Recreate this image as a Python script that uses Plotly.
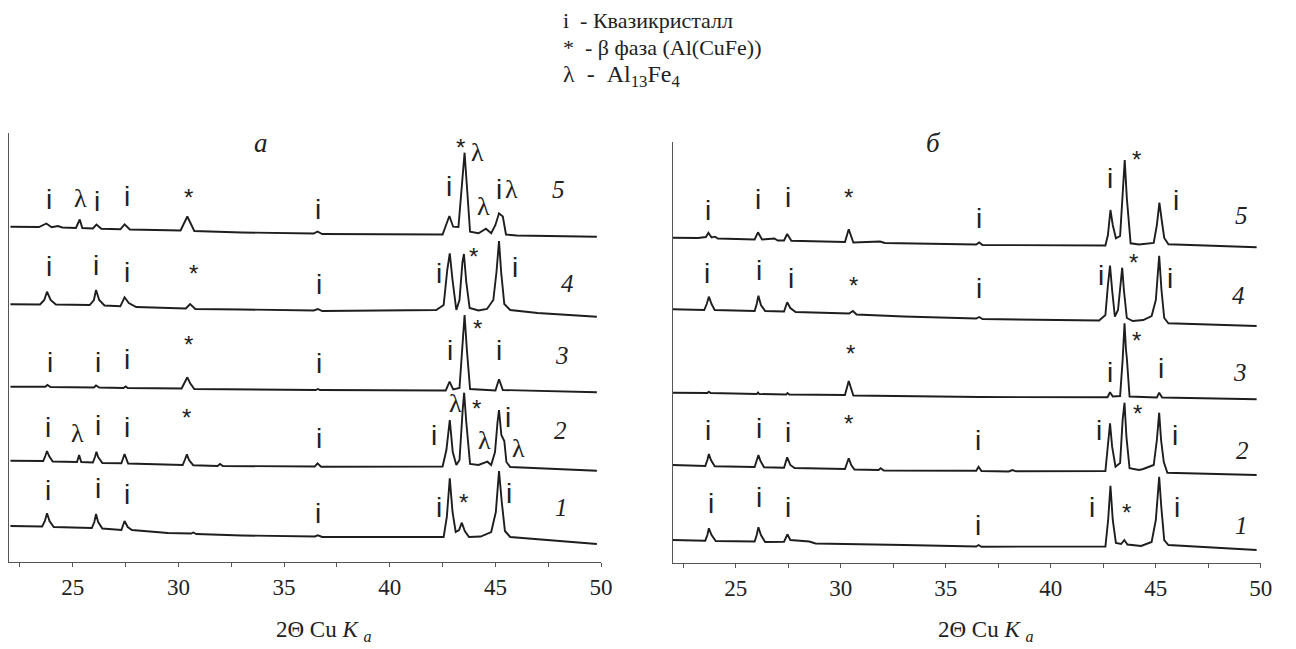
import plotly.graph_objects as go

# ---------------- data: panel "a" (x = 2theta, y = intensity a.u. incl. offset) ----------------
a5_x = [22.05, 23.4, 23.75, 24.0, 24.3, 24.5, 25.15, 25.33, 25.45, 25.95, 26.12, 26.35, 27.25, 27.45, 27.7,
        30.1, 30.42, 30.75, 33.0, 36.4, 36.58, 36.8, 42.5, 42.82, 43.0, 43.25, 43.54, 43.8, 44.2, 44.55,
        44.8, 45.0, 45.17, 45.35, 45.5, 46.0, 49.8]
a5_y = [335.3, 335, 338.5, 334.7, 336, 334.5, 334, 342.5, 334, 333.5, 337.5, 333.3, 332.7, 337.7, 332.5,
        331.5, 345.5, 331, 329.5, 328.5, 330.5, 328, 327.5, 346, 335.3, 335, 409.3, 330.3, 328.7, 333.3,
        328.7, 337, 348.7, 345.5, 327.5, 326.5, 325.3]

a4_x = [22.05, 23.45, 23.65, 23.78, 23.95, 24.2, 25.8, 26.0, 26.1, 26.25, 26.5, 27.25, 27.45, 27.65, 28.0,
        29.0, 30.35, 30.55, 30.8, 33.0, 36.4, 36.6, 36.8, 42.2, 42.55, 42.72, 42.84, 42.97, 43.15, 43.3,
        43.44, 43.51, 43.62, 43.78, 44.2, 44.6, 44.9, 45.05, 45.17, 45.27, 45.42, 45.7, 47.0, 49.8]
a4_y = [257.7, 257.5, 262, 270.3, 262, 257.5, 257, 262, 272, 262, 256.5, 255.7, 264.7, 259, 255,
        254.5, 253.5, 258, 253, 252.5, 251.5, 253, 251, 252, 257, 292, 308.7, 282, 252, 262,
        300, 308, 280, 254, 251.5, 253, 262, 290, 321, 290, 258, 252, 249, 245.3]

a3_x = [22.05, 23.7, 23.8, 23.95, 26.0, 26.1, 26.25, 27.4, 27.5, 27.6, 30.15, 30.3, 30.42, 30.55, 30.75,
        36.5, 36.6, 36.7, 42.65, 42.83, 43.0, 43.3, 43.45, 43.54, 43.65, 43.8, 45.0, 45.17, 45.35, 49.8]
a3_y = [175.3, 175.2, 177, 175, 174.5, 176.5, 174.5, 174, 175.5, 174, 173.5, 179, 184.7, 179, 173,
        172, 173, 172, 171.5, 180.3, 172.5, 174, 222, 247, 212, 173, 171.5, 182.7, 172, 169.7]

a2_x = [22.05, 23.6, 23.7, 23.78, 23.88, 24.05, 25.2, 25.3, 25.4, 25.95, 26.05, 26.12, 26.2, 26.4, 27.3,
        27.45, 27.62, 30.2, 30.3, 30.4, 30.5, 30.7, 31.85, 31.97, 32.1, 36.45, 36.58, 36.75, 42.5, 42.68,
        42.84, 42.98, 43.15, 43.3, 43.45, 43.52, 43.62, 43.8, 44.2, 44.45, 44.62, 44.8, 44.98, 45.1,
        45.17, 45.28, 45.42, 45.52, 45.7, 49.8]
a2_y = [101.3, 101, 106, 111, 106, 100.5, 100, 107, 100, 99.5, 105, 110.3, 105, 99, 98.7,
        108, 98.5, 97, 102, 107.7, 102, 96.8, 96, 98, 96, 95.5, 98.7, 95.3, 95.5, 112,
        142, 110, 97, 102, 152, 169.3, 140, 98, 97, 99, 100.3, 97, 110, 140,
        152, 127, 121, 100, 95, 91.3]

a1_x = [22.05, 23.55, 23.68, 23.78, 23.9, 24.1, 25.9, 26.02, 26.1, 26.2, 26.4, 27.3, 27.45, 27.6, 27.8,
        28.5, 29.5, 30.6, 30.7, 30.85, 33.0, 36.45, 36.6, 36.8, 42.55, 42.7, 42.84, 42.97, 43.12, 43.28,
        43.41, 43.55, 43.75, 44.3, 44.8, 45.02, 45.17, 45.3, 45.45, 45.7, 47.5, 49.8]
a1_y = [36, 35.5, 41, 48.7, 41, 35, 34, 40, 48, 40, 33.5, 32, 41, 35, 32,
        30.5, 29, 28.5, 29.5, 28, 26.5, 25.5, 26.7, 25, 25, 45, 83.7, 50, 30, 32,
        39.3, 31, 25, 25.5, 30, 50, 91, 60, 31, 25, 22, 18]

# ---------------- data: panel "б" ----------------
b5_x = [22.0, 23.2, 23.58, 23.7, 23.85, 24.01, 24.15, 25.9, 26.06, 26.25, 26.84, 27.0, 27.3, 27.45, 27.65,
        30.2, 30.38, 30.6, 31.87, 32.1, 36.45, 36.59, 36.75, 42.6, 42.72, 42.84, 42.95, 43.1, 43.3, 43.44,
        43.52, 43.62, 43.8, 44.2, 44.9, 45.05, 45.17, 45.28, 45.4, 45.6, 49.8]
b5_y = [325.3, 325, 326, 330.3, 325.5, 326.3, 324.5, 323.5, 330.7, 323.5, 324.5, 322.5, 322.5, 329, 322.3,
        321, 333.7, 320.5, 321.5, 320, 318.5, 320.5, 318, 317.5, 328, 353, 338, 324.7, 327, 378,
        403, 365, 319.7, 318.5, 320, 338, 360.3, 343, 325, 318.7, 315.7]

b4_x = [22.0, 23.5, 23.62, 23.72, 23.85, 24.0, 25.9, 26.0, 26.08, 26.2, 26.4, 27.3, 27.45, 27.6, 27.85,
        30.4, 30.58, 30.75, 33.0, 36.45, 36.59, 36.75, 42.3, 42.6, 42.72, 42.82, 42.92, 43.05, 43.2, 43.3,
        43.4, 43.48, 43.62, 43.9, 44.4, 44.8, 45.0, 45.16, 45.27, 45.4, 45.6, 49.8]
b4_y = [253.7, 253, 259, 266.3, 259, 253, 252, 259, 267.3, 258, 252, 251.5, 260.7, 255, 251,
        249.5, 252, 248.5, 246.5, 244.5, 246, 244, 242.5, 248, 278, 297.3, 273, 246.3, 253, 278,
        295.3, 273, 245, 242, 243, 247, 263, 307.3, 273, 245, 239.7, 237]

b3_x = [22.0, 23.65, 23.72, 23.8, 26.0, 26.06, 26.12, 27.4, 27.46, 27.55, 30.2, 30.38, 30.6, 36.6, 42.7,
        42.82, 42.95, 43.3, 43.42, 43.51, 43.58, 43.62, 43.75, 45.05, 45.16, 45.3, 49.8]
b3_y = [170.3, 170, 171.3, 170, 169, 170.5, 169, 168.5, 170, 168.5, 168, 182, 167.5, 166, 165.7,
        170.7, 166.5, 167, 203, 239.7, 213, 205, 166.5, 165.5, 170.3, 165.5, 163.7]

b2_x = [22.0, 23.55, 23.65, 23.72, 23.82, 24.0, 25.9, 26.0, 26.08, 26.18, 26.35, 27.3, 27.45, 27.6, 27.8,
        30.2, 30.28, 30.38, 30.5, 30.65, 31.8, 31.9, 32.05, 36.45, 36.56, 36.7, 38.0, 38.17, 38.35, 42.6,
        42.72, 42.82, 42.92, 43.08, 43.3, 43.42, 43.51, 43.6, 43.75, 44.2, 44.4, 44.9, 45.05, 45.16,
        45.25, 45.38, 45.55, 49.8]
b2_y = [98, 97, 103, 109, 103, 96.7, 96, 102, 108, 102, 95.7, 95.3, 105.7, 98, 95,
        94, 99, 104.7, 98, 93.5, 93, 94.7, 92.5, 92.3, 96.3, 92, 91.5, 93, 91.7, 92,
        118, 139.7, 116.3, 96.3, 100, 143, 160.3, 126.3, 94.7, 93, 94, 98, 123, 150.3,
        123, 101, 90.3, 88]

b1_x = [22.0, 23.55, 23.65, 23.72, 23.85, 24.05, 25.9, 26.0, 26.08, 26.2, 26.4, 27.3, 27.46, 27.6, 28.5,
        28.8, 33.0, 36.45, 36.56, 36.7, 42.6, 42.73, 42.84, 42.95, 43.1, 43.35, 43.5, 43.65, 44.3, 44.8,
        45.0, 45.16, 45.26, 45.4, 45.6, 49.8]
b1_y = [23, 22.3, 28, 34.7, 28, 22, 21.5, 28, 35.7, 28, 21, 21.3, 28.7, 23, 21.5,
        19.5, 18, 16.5, 18, 16.3, 16.5, 43, 77.3, 43, 20, 19, 23, 18.5, 17, 21,
        43, 86.3, 56.3, 23, 18, 13]

# ---------------- phase marks ----------------
a_mark_text = ["i", "λ", "i", "i", "*", "i", "i", "*", "λ", "λ", "i", "λ",
               "i", "i", "i", "*", "i", "i", "*", "i",
               "i", "i", "i", "*", "i", "i", "*", "i",
               "i", "λ", "i", "i", "*", "i", "i", "λ", "*", "λ", "i", "λ",
               "i", "i", "i", "i", "i", "*", "i"]
a_mark_x = [23.86, 25.36, 26.14, 27.56, 30.47, 36.6, 42.81, 43.36, 44.14, 44.45, 45.16, 45.74,
            23.87, 26.12, 27.57, 30.7, 36.66, 42.31, 43.98, 45.94,
            23.9, 26.21, 27.56, 30.47, 36.64, 42.84, 44.14, 45.19,
            23.82, 25.23, 26.2, 27.57, 30.39, 36.64, 42.11, 43.09, 44.1, 44.5, 45.6, 46.07,
            23.82, 26.21, 27.57, 36.61, 42.31, 43.51, 45.62]
a_mark_y = [362, 363, 360, 365, 364, 352, 375, 414, 409, 355, 372, 372,
            296, 297, 290, 289, 278, 289, 305, 295,
            200, 200, 203, 218, 199, 212, 234, 212,
            135, 129, 137, 135, 145, 124, 127, 159, 154, 122, 145, 114,
            72, 74, 68, 49, 55, 60, 69]

b_mark_text = ["i", "i", "i", "*", "i", "i", "*", "i",
               "i", "i", "i", "*", "i", "i", "*", "i",
               "*", "i", "*", "i",
               "i", "i", "i", "*", "i", "i", "*", "i",
               "i", "i", "i", "i", "i", "*", "i"]
b_mark_x = [23.67, 26.06, 27.47, 30.38, 36.59, 42.8, 44.06, 45.95,
            23.62, 26.1, 27.63, 30.62, 36.59, 42.41, 43.95, 45.68,
            30.46, 42.8, 44.06, 45.24,
            23.7, 26.1, 27.5, 30.38, 36.54, 42.3, 44.11, 45.92,
            23.81, 26.09, 27.47, 36.54, 41.97, 43.59, 46.02]
b_mark_y = [353, 364, 366, 366, 345, 385, 404, 363,
            290, 293, 285, 278, 275, 288, 301, 285,
            210, 191, 223, 195,
            133, 135, 131, 140, 123, 133, 150, 128,
            60, 66, 56, 38, 56, 51, 56]

curve_numbers = ["5", "4", "3", "2", "1"]
a_num_x = [47.97, 48.41, 48.13, 48.1, 48.13]
a_num_y = [372, 279, 207, 132, 55]
b_num_x = [49.06, 48.94, 49.01, 49.15, 49.09]
b_num_y = [348, 268, 191, 113, 38]

major_ticks = [25, 30, 35, 40, 45, 50]
minor_ticks = [22.5, 27.5, 32.5, 37.5, 42.5, 47.5]

legend_lines = ["i  - Квазикристалл", "*  - β фаза (Al(CuFe))", "λ  -  Al<sub>13</sub>Fe<sub>4</sub>"]
legend_sizes = [22, 22, 24]

# ---------------- figure ----------------
# the page body has an 8px margin; positions below are screen pixels
OFF = 8
W, H = 1296 - 2 * OFF, 649 - OFF


def px_x(px):
    return (px - OFF) / W


def px_y(py):
    return 1 - (py - OFF) / H


SERIF = "Liberation Serif"
SANS = "Liberation Sans"
LINE = "#1e1e1e"
AX = "#555555"

fig = go.Figure()
for xs, ys in [(a5_x, a5_y), (a4_x, a4_y), (a3_x, a3_y), (a2_x, a2_y), (a1_x, a1_y)]:
    fig.add_trace(go.Scatter(x=xs, y=ys, mode="lines", line=dict(color=LINE, width=1.9),
                             xaxis="x", yaxis="y", showlegend=False, hoverinfo="skip"))
for xs, ys in [(b5_x, b5_y), (b4_x, b4_y), (b3_x, b3_y), (b2_x, b2_y), (b1_x, b1_y)]:
    fig.add_trace(go.Scatter(x=xs, y=ys, mode="lines", line=dict(color=LINE, width=1.9),
                             xaxis="x2", yaxis="y2", showlegend=False, hoverinfo="skip"))

xa_common = dict(range=[22, 50], showline=True, linecolor=AX, linewidth=1, showgrid=False,
                 zeroline=False, ticks="outside", ticklen=4, tickcolor=AX, tickmode="array",
                 tickvals=major_ticks, tickfont=dict(family=SERIF, size=23, color="#222"),
                 minor=dict(tickmode="array", tickvals=minor_ticks, ticks="outside", ticklen=4,
                            tickcolor=AX, showgrid=False))
a_top = 429.3
b_top = 420.7
ya_common = dict(showline=True, linecolor=AX, linewidth=1, showgrid=False, zeroline=False,
                 ticks="inside", ticklen=4, tickcolor=AX, showticklabels=False)
fig.update_layout(
    width=W, height=H, margin=dict(l=0, r=0, t=0, b=0),
    paper_bgcolor="white", plot_bgcolor="white",
    xaxis=dict(domain=[px_x(9.4), px_x(606.7)], anchor="y", **xa_common),
    yaxis=dict(domain=[px_y(562), px_y(132.7)], range=[0, a_top], anchor="x", tickvals=[a_top],
               **ya_common),
    xaxis2=dict(domain=[px_x(679), px_x(1272.7)], anchor="y2", **xa_common),
    yaxis2=dict(domain=[px_y(563), px_y(142.3)], range=[0, b_top], anchor="x2", tickvals=[b_top],
                **ya_common),
)

ann = []
for panel, texts, xs, ys in [("", a_mark_text, a_mark_x, a_mark_y), ("2", b_mark_text, b_mark_x, b_mark_y)]:
    for t, x, y in zip(texts, xs, ys):
        if t == "λ":
            font = dict(family=SERIF, size=26, color="#222")
        elif t == "*":
            font = dict(family=SANS, size=24, color="#222")
        else:
            font = dict(family=SANS, size=28, color="#222")
        ann.append(dict(x=x, y=y, xref="x" + panel, yref="y" + panel, text=t, showarrow=False,
                        font=font, xanchor="center", yanchor="middle"))
for panel, xs, ys in [("", a_num_x, a_num_y), ("2", b_num_x, b_num_y)]:
    for t, x, y in zip(curve_numbers, xs, ys):
        ann.append(dict(x=x, y=y, xref="x" + panel, yref="y" + panel, text="<i>" + t + "</i>",
                        showarrow=False, xanchor="center", yanchor="middle",
                        font=dict(family=SERIF, size=25, color="#222")))

# panel letters
for t, cx in [("<i>a</i>", 263), ("<i>б</i>", 942)]:
    ann.append(dict(x=px_x(cx), y=px_y(143), xref="paper", yref="paper", text=t, showarrow=False,
                    xanchor="center", yanchor="middle", font=dict(family=SERIF, size=27, color="#222")))

# axis titles
for cx in [327, 995]:
    ann.append(dict(x=px_x(cx), y=px_y(631), xref="paper", yref="paper",
                    text="2Θ Cu <i>K</i> <sub><i>a</i></sub>", showarrow=False,
                    xanchor="center", yanchor="middle",
                    font=dict(family=SERIF, size=23, color="#222")))

# phase legend
for t, py, sz in zip(legend_lines, [20, 48, 76], legend_sizes):
    ann.append(dict(x=px_x(566), y=px_y(py), xref="paper", yref="paper", text=t, showarrow=False,
                    xanchor="left", yanchor="middle", font=dict(family=SERIF, size=sz, color="#222")))

fig.update_layout(annotations=ann)
fig.write_html("out.html")
